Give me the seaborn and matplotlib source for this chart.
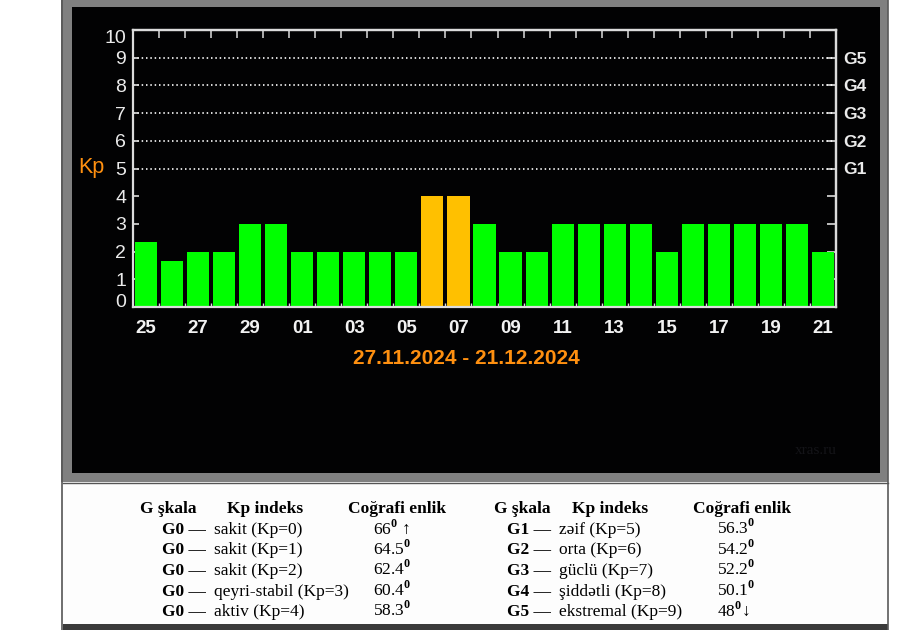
import matplotlib
matplotlib.use("Agg")
import matplotlib.pyplot as plt
import seaborn as sns
import numpy as np
from matplotlib.patches import Rectangle
from matplotlib.lines import Line2D

# ---------------- data ----------------
days = ["25", "26", "27", "28", "29", "30", "01", "02", "03", "04", "05", "06", "07",
        "08", "09", "10", "11", "12", "13", "14", "15", "16", "17", "18", "19", "20", "21"]
kp = [2.33, 1.67, 2, 2, 3, 3, 2, 2, 2, 2, 2, 4, 4,
      3, 2, 2, 3, 3, 3, 3, 2, 3, 3, 3, 3, 3, 2]
date_range = "27.11.2024 - 21.12.2024"
y_ticks = list(range(0, 11))
g_levels = [5, 6, 7, 8, 9]
g_labels = ["G1", "G2", "G3", "G4", "G5"]

tbl_header = ["G şkala", "Kp indeks", "Coğrafi enlik"]
left_g = ["G0", "G0", "G0", "G0", "G0"]
left_desc = ["sakit (Kp=0)", "sakit (Kp=1)", "sakit (Kp=2)", "qeyri-stabil (Kp=3)", "aktiv (Kp=4)"]
left_lat = ["66", "64.5", "62.4", "60.4", "58.3"]
left_arrow = [" ↑", "", "", "", ""]
right_g = ["G1", "G2", "G3", "G4", "G5"]
right_desc = ["zəif (Kp=5)", "orta (Kp=6)", "güclü (Kp=7)", "şiddətli (Kp=8)", "ekstremal (Kp=9)"]
right_lat = ["56.3", "54.2", "52.2", "50.1", "48"]
right_arrow = ["", "", "", "", "↓"]

# ---------------- style ----------------
plt.rcParams['font.family'] = ['Liberation Sans', 'DejaVu Sans']
plt.rcParams['mathtext.fontset'] = 'custom'
plt.rcParams['mathtext.rm'] = 'Liberation Serif'
plt.rcParams['mathtext.bf'] = 'Liberation Serif:bold'

GREEN = "#00FF00"
AMBER = "#FFC000"
RED = "#FF0000"
bar_colors = [GREEN if v < 4 else (AMBER if v < 5 else RED) for v in kp]
AXC = "#DCDCDC"
ORANGE = "#FF9010"
SERIF = ['Liberation Serif', 'DejaVu Serif']

W, H = 922, 630
fig = plt.figure(figsize=(W / 100, H / 100), dpi=100, facecolor="white")

# background (pixel coordinates)
bg = fig.add_axes([0, 0, 1, 1])
bg.set_xlim(0, W)
bg.set_ylim(H, 0)
bg.axis("off")
bg.add_patch(Rectangle((61, 0), 827, 482, fc="#808080", ec="none"))
bg.add_patch(Rectangle((72, 7), 808, 466, fc="#020203", ec="none"))
bg.add_patch(Rectangle((63, 482), 825, 143, fc="#FDFDFD", ec="none"))
bg.add_patch(Rectangle((63, 624), 825, 6, fc="#3A3A3A", ec="none"))
bg.add_line(Line2D([61.5, 61.5], [0, 630], color="#555555", lw=1.2))
bg.add_line(Line2D([888, 888], [0, 630], color="#5A5A5A", lw=1.2))
bg.add_line(Line2D([63, 888], [482.5, 482.5], color="#555555", lw=1.0))

# ---------------- main chart ----------------
ax = fig.add_axes([133 / W, (H - 307) / H, (836 - 133) / W, (307 - 30) / H])
ax.set_facecolor("none")
sns.barplot(x=days, y=kp, order=days, hue=days, hue_order=days, palette=bar_colors,
            width=0.85, saturation=1, legend=False, linewidth=0, ax=ax, zorder=3)
ax.set_xlim(-0.5, len(days) - 0.5)
ax.set_ylim(0, 10)
ax.set_xlabel("")
ax.set_ylabel("")

for v in g_levels:
    ax.axhline(v, color="white", lw=1.2, linestyle=(0, (0.9, 1.7)), zorder=1)

for s in ax.spines.values():
    s.set_color(AXC)
    s.set_linewidth(1.6)
    s.set_zorder(4)

ax.set_xticks(range(0, len(days), 2))
ax.set_xticklabels(days[::2])
ax.set_xticks(np.arange(0.5, len(days) - 1, 1), minor=True)
ax.tick_params(axis="x", which="major", length=0, pad=9.5, labelsize=13.5, labelcolor="#F2F2F2")
ax.tick_params(axis="x", which="minor", direction="in", length=3, width=1, color=AXC,
               bottom=True, top=False)
for lbl in ax.get_xticklabels():
    lbl.set_fontweight("bold")

ax.set_yticks(y_ticks)
ax.set_yticklabels([str(t) for t in y_ticks])
ax.tick_params(axis="y", which="major", direction="in", length=4, width=1.2, color=AXC,
               pad=5, labelsize=14, labelcolor="#EBEBEB")
ylbls = ax.get_yticklabels()
ylbls[0].set_va("baseline")
ylbls[-1].set_va("top")

top = ax.secondary_xaxis("top")
top.set_xticks(np.arange(0.5, len(days) - 1, 1))
top.tick_params(direction="in", length=5.5, width=1.1, color=AXC, labeltop=False)
top.spines["top"].set_color(AXC)
top.spines["top"].set_linewidth(1.6)

right = ax.secondary_yaxis("right")
right.set_yticks(range(1, 10))
right.set_yticklabels([""] * 4 + g_labels)
right.tick_params(direction="in", length=6.5, width=1.2, color=AXC, pad=5,
                  labelsize=12.5, labelcolor="#EBEBEB")
right.spines["right"].set_color(AXC)
right.spines["right"].set_linewidth(1.6)
for lbl in right.get_yticklabels():
    lbl.set_fontweight("bold")
    lbl.set_family(["Liberation Sans Narrow", "Liberation Sans"])

# labels
bg.text(91, 168, "Kp", color=ORANGE, fontsize=15.5, ha="center", va="center")
bg.text(466, 358, date_range, color=ORANGE, fontsize=15, fontweight="bold",
        ha="center", va="center")
bg.text(816, 450, "xras.ru", color="#141418", fontsize=11, family=SERIF,
        ha="center", va="center")

# ---------------- table ----------------
FS = 12.5
base = [513, 534, 554.5, 575, 595.5, 616]


def draw_table(x_hdr, x_g, x_desc, x_val, gs, descs, lats, arrows):
    for x, t in zip(x_hdr, tbl_header):
        bg.text(x, base[0], t, family=SERIF, fontsize=FS, fontweight="bold",
                va="baseline", ha="left", color="black")
    for i in range(len(gs)):
        y = base[i + 1]
        bg.text(x_g, y, gs[i] + " —", family=SERIF, fontsize=FS, fontweight="bold",
                va="baseline", ha="left", color="black")
        bg.text(x_desc, y, descs[i], family=SERIF, fontsize=FS,
                va="baseline", ha="left", color="black")
        bg.text(x_val, y, lats[i] + r"$^{\mathbf{0}}$" + arrows[i], family=SERIF,
                fontsize=FS, va="baseline", ha="left", color="black")


draw_table([140, 227, 348], 162, 214, 373, left_g, left_desc, left_lat, left_arrow)
draw_table([494, 572, 693], 507, 559, 717, right_g, right_desc, right_lat, right_arrow)

fig.savefig("out.png", dpi=100, facecolor="white")
